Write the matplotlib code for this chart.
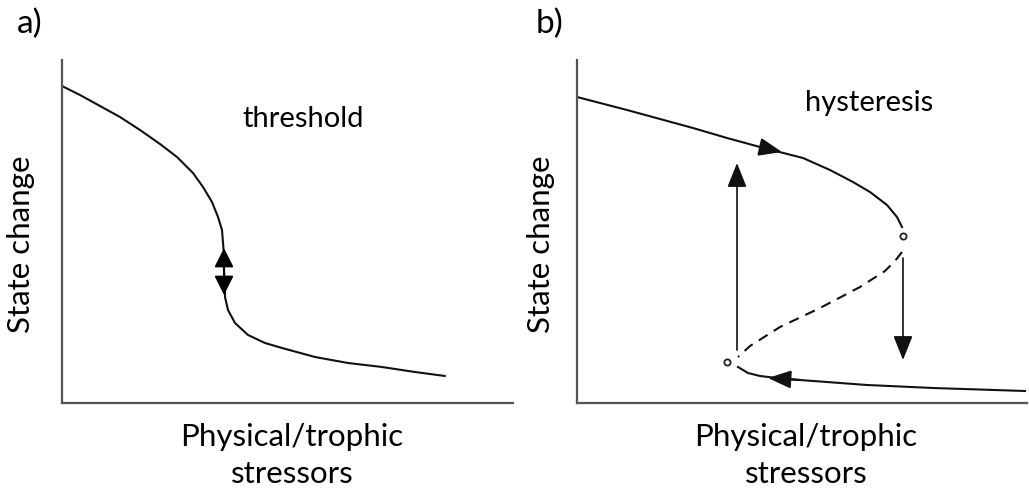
import matplotlib
matplotlib.use("Agg")
import matplotlib.pyplot as plt

plt.rcParams['font.family'] = ['Lato', 'DejaVu Sans']

W, H = 1029, 495

# panel a: threshold curve (stressor, state), arbitrary units
thr_x = [0, 18, 38, 58, 78, 98, 115, 131, 141, 150, 156, 160, 161, 162, 162, 163, 163,
         166, 173, 186, 203, 220, 253, 286, 320, 353, 383]
thr_y = [317, 308, 297, 286, 273, 259, 246, 230, 216, 201, 186, 173, 160, 148, 133, 118, 106,
         93, 80, 68, 60, 55, 46, 40, 36, 31, 27]
thr_arrow = (162, 155, 108)   # x, top, bottom

# panel b: hysteresis
upper_x = [0, 50, 116, 150, 183, 226, 253, 276, 293, 310, 320, 325]
upper_y = [306, 293, 275, 265, 256, 245, 233, 221, 211, 198, 186, 176]
mid_x = [325, 318, 308, 283, 243, 203, 173, 161]
mid_y = [151, 142, 132, 116, 95, 76, 57, 46]
lower_x = [161, 166, 171, 183, 200, 223, 290, 356, 448]
lower_y = [36, 33, 30, 27, 25, 23, 18, 15, 12]
fold_x = [326, 150]
fold_y = [167, 41]
jump_up = (160, 53, 240)
jump_down = (326, 145, 43)
upper_head = ((183, 256), (205, 251))
lower_head = ((223, 23), (191, 25))

fig = plt.figure(figsize=(W / 100, H / 100), dpi=100)


def make_axes(left, right, top=60, bottom=403):
    ax = fig.add_axes([left / W, 1 - bottom / H, (right - left) / W, (bottom - top) / H])
    ax.set_xlim(0, right - left)
    ax.set_ylim(0, bottom - top)
    for s in ['top', 'right']:
        ax.spines[s].set_visible(False)
    for s in ['left', 'bottom']:
        ax.spines[s].set_color('#555555')
        ax.spines[s].set_linewidth(1.6)
    ax.set_xticks([])
    ax.set_yticks([])
    return ax


ax1 = make_axes(62, 513)
ax2 = make_axes(577, 1027)

lw = 1.5
ax1.plot(thr_x, thr_y, color='#111111', lw=lw, solid_capstyle='round', solid_joinstyle='round')
ax1.annotate('', xy=(thr_arrow[0], thr_arrow[1]), xytext=(thr_arrow[0], thr_arrow[2]),
             arrowprops=dict(arrowstyle='<|-|>,head_length=1.2,head_width=0.6', color='black', lw=1.2,
                             shrinkA=0, shrinkB=0))

ax2.plot(upper_x, upper_y, color='#111111', lw=lw, solid_joinstyle='round')
ax2.plot(mid_x, mid_y, color='#111111', lw=lw, ls=(0, (5, 3.5)))
ax2.plot(lower_x, lower_y, color='#111111', lw=lw, solid_joinstyle='round')
ax2.scatter(fold_x, fold_y, s=20, facecolors='white', edgecolors='#222222', linewidths=1.3, zorder=3)
for (x, y0, y1) in [jump_up, jump_down]:
    ax2.annotate('', xy=(x, y1), xytext=(x, y0),
                 arrowprops=dict(arrowstyle='-|>,head_length=1.5,head_width=0.6', color='#111111', lw=1.2,
                                 shrinkA=0, shrinkB=0))
for (p0, p1) in [upper_head, lower_head]:
    ax2.annotate('', xy=p1, xytext=p0,
                 arrowprops=dict(arrowstyle='-|>,head_length=1.4,head_width=0.55', color='#111111', lw=1.5,
                                 shrinkA=0, shrinkB=0))

fs = 22.5
ax1.text(241, 284, 'threshold', fontsize=21, ha='center', va='center')
ax2.text(292, 300, 'hysteresis', fontsize=21, ha='center', va='center')

fig.text(30 / W, 1 - 24 / H, 'a)', fontsize=24, ha='center', va='center')
fig.text(550 / W, 1 - 24 / H, 'b)', fontsize=24, ha='center', va='center')
for cx, ycx in [(21, 292), (541, 806)]:
    fig.text(cx / W, 1 - 244 / H, 'State change', fontsize=fs, rotation=90, ha='center', va='center')
    fig.text(ycx / W, 1 - 437 / H, 'Physical/trophic', fontsize=fs, ha='center', va='center')
    fig.text(ycx / W, 1 - 474 / H, 'stressors', fontsize=fs, ha='center', va='center')

fig.savefig('out.png', dpi=100)
